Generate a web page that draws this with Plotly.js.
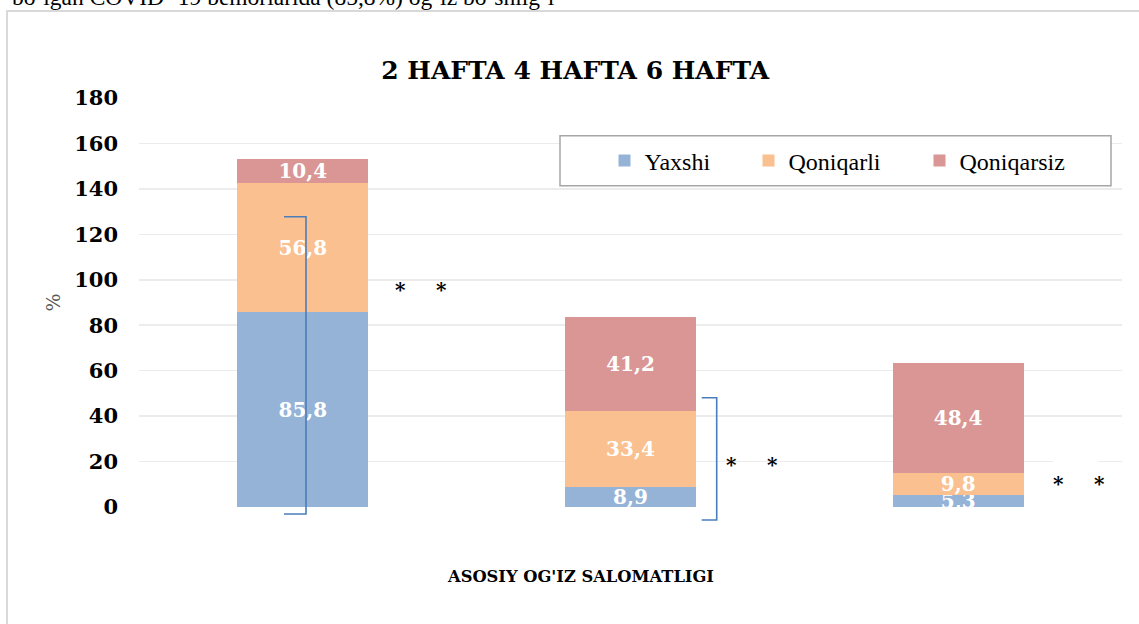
<!DOCTYPE html>
<html>
<head>
<meta charset="utf-8">
<script src="https://cdn.plot.ly/plotly-3.0.1.min.js"></script>
<style>
  html, body { margin:0; padding:0; background:#ffffff; overflow:hidden; }
  #wrap { position:relative; width:1139px; height:624px; overflow:hidden; }
  #frame { position:absolute; left:6px; top:10px; width:1200px; height:700px; border:2px solid #d9d9d9; box-sizing:border-box; }
  #toptext { position:absolute; left:12px; top:-16px; font-family:"Liberation Serif", serif; font-size:23.5px; line-height:27px; color:#000; white-space:nowrap; }
  #chart { position:absolute; left:0; top:0; width:1139px; height:624px; }
</style>
</head>
<body>
<div id="wrap">
  <div id="frame"></div>
  <div id="toptext">boʻlgan COVID- 19 bemorlarida (85,8%) ogʻiz boʻshligʻi</div>
  <div id="chart"></div>
</div>
<script>
// ---- data ----
const categories = ['2 HAFTA', '4 HAFTA', '6 HAFTA'];
const seriesNames = ['Yaxshi', 'Qoniqarli', 'Qoniqarsiz'];
const yaxshi = [85.8, 8.9, 5.3];
const qoniqarli = [56.8, 33.4, 9.8];
const qoniqarsiz = [10.4, 41.2, 48.4];
const yTickValues = [0, 20, 40, 60, 80, 100, 120, 140, 160, 180];
const titleText = '2 HAFTA 4 HAFTA 6 HAFTA';
const xTitleText = "ASOSIY OG'IZ SALOMATLIGI";
const yTitleText = '%';

// ---- geometry helpers (plot area in pixels) ----
const W = 1139, H = 624;
const M = { l: 139, r: 17, t: 98, b: 117 };
const PW = W - M.l - M.r, PH = H - M.t - M.b;
const px = v => (v - M.l) / PW;       // pixel x -> paper x
const py = v => (H - M.b - v) / PH;   // pixel y -> paper y

const colors = ['#95b3d7', '#fac090', '#d99694'];
const fmt = v => v.toFixed(1).replace('.', ',');
const seriesValues = [yaxshi, qoniqarli, qoniqarsiz];
const legendIds = ['legend', 'legend2', 'legend3'];

const traces = seriesValues.map((vals, i) => ({
  type: 'bar',
  name: seriesNames[i],
  x: categories,
  y: vals,
  text: vals.map(fmt),
  textposition: 'inside',
  insidetextanchor: 'middle',
  constraintext: 'none',
  textangle: 0,
  textfont: { family: 'DejaVu Serif', size: 20, weight: 'bold', color: '#ffffff' },
  marker: { color: colors[i], line: { width: 0 } },
  legend: legendIds[i],
  hoverinfo: 'skip'
}));

const legendFont = { family: 'Liberation Serif', size: 24, color: '#000000' };
const legendBase = { orientation: 'v', bgcolor: 'rgba(0,0,0,0)', borderwidth: 0, font: legendFont,
  yanchor: 'middle', xanchor: 'left', y: py(161), itemclick: false, itemdoubleclick: false };

const bracketColor = '#4a7ebb';
function bracket(xo, xi, yt, yb) {
  return { type: 'path', xref: 'paper', yref: 'paper', layer: 'above',
    path: `M ${px(xo)} ${py(yt)} L ${px(xi)} ${py(yt)} L ${px(xi)} ${py(yb)} L ${px(xo)} ${py(yb)}`,
    line: { color: bracketColor, width: 1.6 } };
}

function star(x, y) {
  return { xref: 'paper', yref: 'paper', x: px(x), y: py(y), text: '*', showarrow: false,
    xanchor: 'center', yanchor: 'middle',
    font: { family: 'DejaVu Serif', size: 20, weight: 'bold', color: '#000000' } };
}

const layout = {
  width: W, height: H,
  margin: M,
  paper_bgcolor: 'rgba(0,0,0,0)',
  plot_bgcolor: 'rgba(0,0,0,0)',
  barmode: 'stack',
  bargap: 0.6,
  showlegend: true,
  title: { text: titleText, x: 0.505, xref: 'container', xanchor: 'center', y: 1 - 70 / H, yref: 'container', yanchor: 'middle',
    font: { family: 'DejaVu Serif', size: 25, weight: 'bold', color: '#000000' } },
  xaxis: { type: 'category', showticklabels: false, ticks: '', showgrid: false, zeroline: false, showline: false, fixedrange: true },
  yaxis: { range: [0, 180], tickvals: yTickValues, ticktext: yTickValues.map(String), ticks: '', showline: false,
    showgrid: true, gridcolor: '#ececec', gridwidth: 1.5, zeroline: false, ticklabelstandoff: 20, fixedrange: true,
    tickfont: { family: 'DejaVu Serif', size: 21, weight: 'bold', color: '#000000' },
    title: { text: yTitleText, standoff: 8, font: { family: 'DejaVu Serif', size: 19, color: '#595959' } }, automargin: false },
  legend: Object.assign({}, legendBase, { x: px(604.5) }),
  legend2: Object.assign({}, legendBase, { x: px(748.5) }),
  legend3: Object.assign({}, legendBase, { x: px(919.5) }),
  shapes: [
    // legend frame
    { type: 'rect', xref: 'paper', yref: 'paper', layer: 'above', x0: px(560), x1: px(1111), y0: py(185.7), y1: py(135.7),
      line: { color: '#a6a6a6', width: 1.5 }, fillcolor: '#ffffff' },
    // white text box behind last pair of stars
    { type: 'rect', xref: 'paper', yref: 'paper', layer: 'above', x0: px(1053), x1: px(1098), y0: py(513), y1: py(440),
      line: { width: 0 }, fillcolor: '#ffffff' },
    bracket(284, 306, 216.7, 514),
    bracket(701.7, 716.7, 397.7, 520)
  ],
  annotations: [
    { xref: 'paper', yref: 'paper', x: px(580), y: py(576), text: xTitleText, showarrow: false, xanchor: 'center', yanchor: 'middle',
      font: { family: 'DejaVu Serif', size: 16.3, weight: 'bold', color: '#000000' } },
    star(400, 290), star(441, 290),
    star(731.7, 465), star(772.7, 465),
    star(1058, 484), star(1099, 484)
  ]
};

Plotly.newPlot('chart', traces, layout, { staticPlot: true, displayModeBar: false });
</script>
</body>
</html>
